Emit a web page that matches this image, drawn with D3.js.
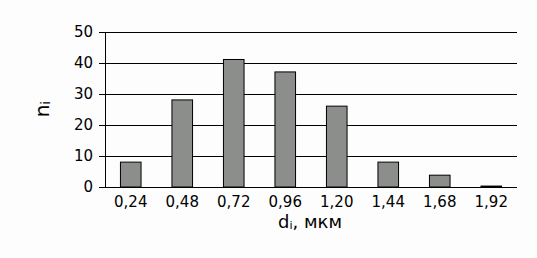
<!DOCTYPE html>
<html>
<head>
<meta charset="utf-8">
<script src="https://cdn.jsdelivr.net/npm/d3@7"></script>
<style>
  body { margin: 0; background: #fdfdfd; }
  text { font-family: "DejaVu Sans", sans-serif; fill: #000; }
</style>
</head>
<body>
<div id="chart"></div>
<script>
const categories = ["0,24", "0,48", "0,72", "0,96", "1,20", "1,44", "1,68", "1,92"];
const counts = [8, 28, 41, 37, 26, 8, 3.8, 0.3];
const yTicks = [0, 10, 20, 30, 40, 50];

const width = 537, height = 258;
const margin = { top: 31.5, right: 20, bottom: 71, left: 105 };

const svg = d3.select("#chart").append("svg")
    .attr("width", width)
    .attr("height", height);

const x = d3.scaleBand()
    .domain(categories)
    .range([margin.left, width - margin.right])
    .paddingInner(0.6)
    .paddingOuter(0.3);

const y = d3.scaleLinear()
    .domain([0, 50])
    .range([height - margin.bottom, margin.top]);

// gridlines + y ticks
svg.append("g")
    .attr("transform", `translate(${margin.left},0)`)
    .call(d3.axisLeft(y).tickValues(yTicks).tickSize(-(width - margin.left - margin.right)).tickPadding(12))
    .call(g => g.select(".domain").remove())
    .call(g => g.selectAll(".tick line").attr("stroke", "#000").attr("x1", -6).attr("shape-rendering", "crispEdges"))
    .call(g => g.selectAll(".tick text").attr("font-size", 15).attr("font-family", "DejaVu Sans"));

// y axis line
svg.append("line")
    .attr("x1", margin.left).attr("x2", margin.left)
    .attr("y1", y(50)).attr("y2", y(0))
    .attr("stroke", "#000")
    .attr("shape-rendering", "crispEdges");

// bars
svg.append("g")
    .selectAll("rect")
    .data(counts)
    .join("rect")
    .attr("x", (d, i) => x(categories[i]))
    .attr("y", d => y(d))
    .attr("width", x.bandwidth())
    .attr("height", d => y(0) - y(d))
    .attr("fill", "#8c8e8c")
    .attr("stroke", "#000")
    .attr("stroke-width", 1);

// zero line on top
svg.append("line")
    .attr("x1", margin.left - 6).attr("x2", width - margin.right)
    .attr("y1", y(0)).attr("y2", y(0))
    .attr("stroke", "#000")
    .attr("shape-rendering", "crispEdges");

// x labels
const xBand = d3.scaleBand().domain(categories).range([margin.left, width - margin.right]);
svg.append("g")
    .selectAll("text")
    .data(categories)
    .join("text")
    .attr("x", d => xBand(d) + xBand.bandwidth() / 2)
    .attr("y", y(0) + 20)
    .attr("text-anchor", "middle")
    .attr("font-size", 15)
    .text(d => d);

// axis titles
const xt = svg.append("text")
    .attr("x", 310)
    .attr("y", 228)
    .attr("text-anchor", "middle")
    .attr("font-size", 18);
xt.append("tspan").text("d");
xt.append("tspan").attr("font-size", 11).attr("dy", 1).text("i");
xt.append("tspan").attr("dy", -1).text(", мкм");

const yt = svg.append("text")
    .attr("transform", `translate(49,${(y(0) + y(50)) / 2}) rotate(-90)`)
    .attr("text-anchor", "middle")
    .attr("font-size", 20);
yt.append("tspan").text("n");
yt.append("tspan").attr("font-size", 12).attr("dy", 1).text("i");
</script>
</body>
</html>
